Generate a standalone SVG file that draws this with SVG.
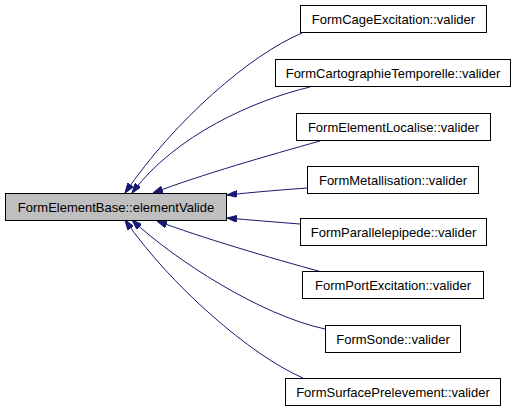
<svg xmlns="http://www.w3.org/2000/svg" width="517" height="413" viewBox="0 0 517 413">
<style>
.node rect{fill:#ffffff;stroke:#000000;stroke-width:1}
.node.main rect{fill:#bfbfbf}
.node text{font-family:"Liberation Sans",Arial,Helvetica,sans-serif;font-size:13px;fill:#000000;text-anchor:middle}
.edge{fill:none;stroke:#191970;stroke-width:1}
</style>
<defs>
<marker id="arr" viewBox="0 0 10 7" refX="10" refY="3.5" markerWidth="10" markerHeight="7" markerUnits="userSpaceOnUse" orient="auto">
<path d="M0,0 L10,3.5 L0,7 z" fill="#191970" stroke="#191970" stroke-width="1"/>
</marker>
</defs>
<rect width="517" height="413" fill="#ffffff"/>
<g id="edges">
<path class="edge" marker-end="url(#arr)" d="M302,33 C250,55 175,120 125,193"/>
<path class="edge" marker-end="url(#arr)" d="M310,87 C255,100 175,135 132,193"/>
<path class="edge" marker-end="url(#arr)" d="M320,141 C270,155 200,175 153,193"/>
<path class="edge" marker-end="url(#arr)" d="M307,188 C280,190 255,192 227,195"/>
<path class="edge" marker-end="url(#arr)" d="M300,224 C275,222 250,220 227,218"/>
<path class="edge" marker-end="url(#arr)" d="M322,272 C270,258 200,237 157,221"/>
<path class="edge" marker-end="url(#arr)" d="M325,329 C260,315 175,260 132,220"/>
<path class="edge" marker-end="url(#arr)" d="M303,378 C250,355 170,285 125,220"/>
</g>
<g id="main" class="node main">
<rect x="5.5" y="193.5" width="221" height="27"/>
<text x="116" y="211.5">FormElementBase::elementValide</text>
</g>
<g id="n1" class="node">
<rect x="300.5" y="5.5" width="186" height="27"/>
<text x="393.5" y="23.5">FormCageExcitation::valider</text>
</g>
<g id="n2" class="node">
<rect x="275.5" y="59.5" width="235" height="27"/>
<text x="393" y="77.5">FormCartographieTemporelle::valider</text>
</g>
<g id="n3" class="node">
<rect x="296.5" y="113.5" width="194" height="27"/>
<text x="393.5" y="131.5">FormElementLocalise::valider</text>
</g>
<g id="n4" class="node">
<rect x="307.5" y="166.5" width="171" height="27"/>
<text x="393" y="184.5">FormMetallisation::valider</text>
</g>
<g id="n5" class="node">
<rect x="300.5" y="218.5" width="186" height="27"/>
<text x="393.5" y="236.5">FormParallelepipede::valider</text>
</g>
<g id="n6" class="node">
<rect x="302.5" y="271.5" width="181" height="27"/>
<text x="393" y="289.5">FormPortExcitation::valider</text>
</g>
<g id="n7" class="node">
<rect x="325.5" y="325.5" width="135" height="27"/>
<text x="393" y="343.5">FormSonde::valider</text>
</g>
<g id="n8" class="node">
<rect x="285.5" y="378.5" width="215" height="27"/>
<text x="393" y="396.5">FormSurfacePrelevement::valider</text>
</g>
</svg>
